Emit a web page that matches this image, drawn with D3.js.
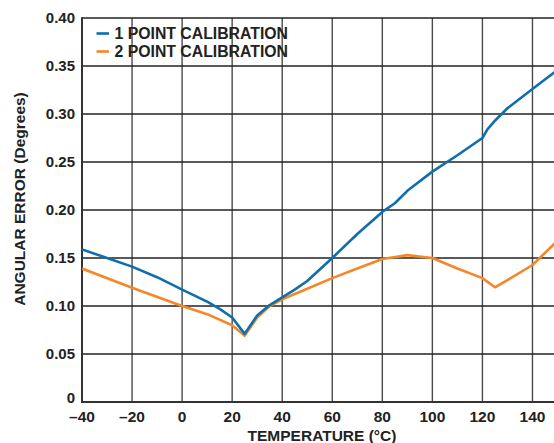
<!DOCTYPE html>
<html><head><meta charset="utf-8">
<script src="https://cdn.jsdelivr.net/npm/d3@7"></script>
<style>
body{margin:0;background:#fff;}
svg{display:block;font-family:"Liberation Sans",Arial,Helvetica,sans-serif;font-weight:bold;}
</style></head><body>
<svg id="c" width="554" height="443"></svg>
<script>
const xTicks = [-40,-20,0,20,40,60,80,100,120,140];
const xTickLabels = ["\u201340","\u201320","0","20","40","60","80","100","120","140"];
const yTicks = [0,0.05,0.10,0.15,0.20,0.25,0.30,0.35,0.40];
const yTickLabels = ["0","0.05","0.10","0.15","0.20","0.25","0.30","0.35","0.40"];
const seriesNames = ["1 POINT CALIBRATION","2 POINT CALIBRATION"];
const seriesColors = ["#0f6fab","#f5872b"];
const temp1 = [-40,-30,-20,-10,0,10,15,20,25,30,35,40,45,50,55,60,70,80,85,90,100,110,120,122,125,130,140,150];
const err1  = [0.159,0.150,0.141,0.130,0.117,0.1045,0.097,0.088,0.071,0.090,0.101,0.109,0.117,0.126,0.138,0.150,0.175,0.198,0.207,0.220,0.240,0.257,0.275,0.284,0.293,0.306,0.326,0.346];
const temp2 = [-40,-20,0,10,20,25,30,35,40,50,60,70,80,90,100,110,120,125,130,140,150];
const err2  = [0.139,0.119,0.100,0.0915,0.080,0.069,0.088,0.100,0.107,0.118,0.129,0.139,0.149,0.153,0.150,0.139,0.129,0.1195,0.127,0.1427,0.168];

const svg = d3.select("#c");
const x = d3.scaleLinear().domain([-40,150]).range([82,557.5]);
const y = d3.scaleLinear().domain([0,0.40]).range([402,18]);

// grid
const g = svg.append("g");
g.selectAll(".vg").data(xTicks.slice(1)).enter().append("line")
  .attr("x1",d=>x(d)).attr("x2",d=>x(d)).attr("y1",y(0.40)).attr("y2",y(0))
  .attr("stroke","#4a4a4a").attr("stroke-width",1.4);
g.selectAll(".hg").data(yTicks.slice(1)).enter().append("line")
  .attr("x1",x(-40)).attr("x2",554).attr("y1",d=>y(d)).attr("y2",d=>y(d))
  .attr("stroke","#222").attr("stroke-width",1.4);
// axes lines
g.append("line").attr("x1",x(-40)).attr("x2",x(-40)).attr("y1",y(0.40)-0.7).attr("y2",y(0)+1)
  .attr("stroke","#333").attr("stroke-width",2);
g.append("line").attr("x1",x(-40)-1).attr("x2",554).attr("y1",y(0)).attr("y2",y(0))
  .attr("stroke","#333").attr("stroke-width",2);

// tick labels
svg.selectAll(".yl").data(yTicks).enter().append("text")
  .attr("x",75).attr("y",d=>y(d)+(d===0?1:4.5)).attr("text-anchor","end")
  .attr("font-size",15).attr("fill","#222").text((d,i)=>yTickLabels[i]);
svg.selectAll(".xl").data(xTicks).enter().append("text")
  .attr("x",d=>x(d)).attr("y",421.5).attr("text-anchor","middle")
  .attr("font-size",15.5).attr("fill","#222").text((d,i)=>xTickLabels[i]);

// axis titles
svg.append("text").attr("x",322).attr("y",440.5).attr("text-anchor","middle")
  .attr("font-size",15.5).attr("fill","#222").text("TEMPERATURE (\u00B0C)");
svg.append("text").attr("transform","translate(25,199) rotate(-90)").attr("text-anchor","middle")
  .attr("font-size",15.5).attr("fill","#222").text("ANGULAR ERROR (Degrees)");

// lines
const line = d3.line().x(d=>x(d[0])).y(d=>y(d[1]));
svg.append("clipPath").attr("id","pc").append("rect")
  .attr("x",x(-40)).attr("y",y(0.40)).attr("width",554-x(-40)).attr("height",y(0)-y(0.40));
const d1 = temp1.map((t,i)=>[t,err1[i]]);
const d2 = temp2.map((t,i)=>[t,err2[i]]);
svg.append("path").datum(d2).attr("d",line).attr("fill","none").attr("stroke",seriesColors[1])
  .attr("stroke-width",2.6).attr("stroke-linejoin","round").attr("clip-path","url(#pc)");
svg.append("path").datum(d1).attr("d",line).attr("fill","none").attr("stroke",seriesColors[0])
  .attr("stroke-width",2.6).attr("stroke-linejoin","round").attr("clip-path","url(#pc)");

// legend
const lg = svg.append("g");
seriesNames.forEach((n,i)=>{
  const yy = 33.5 + i*18;
  lg.append("rect").attr("x",96.5).attr("y",yy-1.3).attr("width",12.5).attr("height",2.6).attr("fill",seriesColors[i]);
  lg.append("text").attr("x",114.5).attr("y",yy+5.6).attr("font-size",15.8).attr("fill","#222").text(n);
});
</script>
</body></html>
